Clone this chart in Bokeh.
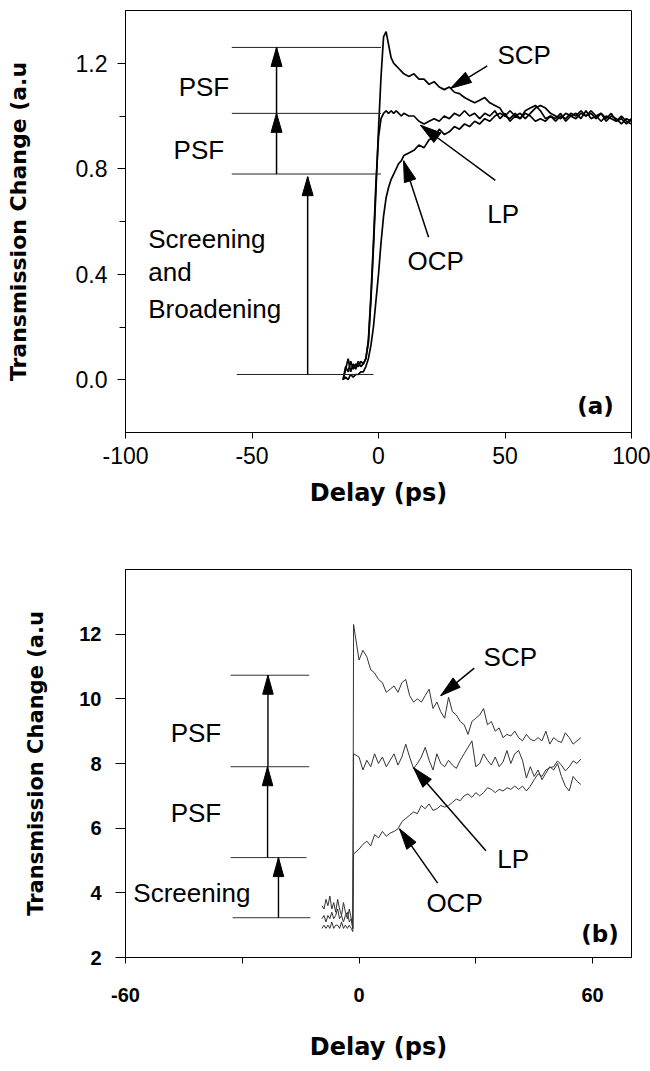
import math
from bokeh.plotting import figure
from bokeh.layouts import column
from bokeh.models import FixedTicker, Range1d, NumeralTickFormatter
from bokeh.embed import file_html
from bokeh.resources import INLINE
from bokeh.core.properties import value

# ---------------- panel (a) data ----------------
delay_a = [-14, -13, -12, -11, -10, -9, -8, -7, -6, -5, -4, -3, -2, -1, 0, 1, 2, 3, 4, 5,
           6, 7, 8, 9, 10, 12, 14, 16, 18, 20, 22, 24, 26, 28, 30, 32, 34, 36, 38, 40,
           42, 44, 46, 48, 50, 52, 54, 56, 58, 60, 62, 64, 66, 68, 70, 72, 74, 76, 78, 80,
           82, 84, 86, 88, 90, 92, 94, 96, 98, 100]
scp_a = [0.00, 0.04, 0.08, 0.03, 0.06, 0.04, 0.07, 0.05, 0.06, 0.08, 0.14, 0.30, 0.50, 0.72, 0.95, 1.15, 1.30, 1.32, 1.27, 1.22,
         1.20, 1.19, 1.18, 1.17, 1.16, 1.15, 1.16, 1.14, 1.14, 1.12, 1.13, 1.11, 1.10, 1.11, 1.09, 1.085, 1.07, 1.06, 1.05, 1.06,
         1.07, 1.05, 1.04, 1.03, 1.00, 0.99, 1.01, 0.99, 1.02, 1.03, 1.04, 1.02, 0.99, 1.00, 0.98, 1.00, 0.99, 1.01, 1.00, 1.02,
         1.00, 1.01, 0.99, 1.01, 0.98, 1.00, 0.99, 0.97, 0.99, 0.98]
lp_a = [0.00, 0.05, 0.03, 0.07, 0.04, 0.06, 0.05, 0.07, 0.06, 0.08, 0.15, 0.32, 0.52, 0.75, 0.92, 0.99, 1.01, 1.02, 1.01, 1.02,
        1.01, 1.02, 1.01, 1.00, 1.01, 1.00, 1.00, 0.98, 0.97, 0.98, 0.99, 0.98, 1.00, 0.99, 1.01, 1.00, 1.02, 1.00, 1.01, 0.99,
        1.01, 1.00, 1.02, 0.99, 1.01, 0.98, 1.00, 0.99, 1.01, 1.00, 0.98, 0.99, 0.98, 1.00, 0.99, 1.01, 0.98, 1.00, 1.01, 0.99,
        1.02, 0.99, 1.00, 0.98, 1.00, 0.99, 0.98, 0.99, 0.97, 0.99]
ocp_a = [0.00, 0.01, 0.00, 0.02, 0.01, 0.02, 0.02, 0.03, 0.03, 0.05, 0.08, 0.13, 0.20, 0.30, 0.40, 0.52, 0.62, 0.69, 0.73, 0.76,
         0.78, 0.80, 0.82, 0.83, 0.85, 0.86, 0.87, 0.89, 0.88, 0.91, 0.92, 0.95, 0.93, 0.94, 0.96, 0.95, 0.97, 0.96, 0.98, 0.97,
         0.99, 0.98, 1.00, 1.01, 1.00, 1.02, 1.00, 1.01, 0.99, 1.01, 1.03, 1.04, 1.03, 1.01, 1.00, 0.99, 1.01, 1.00, 0.99, 1.01,
         1.00, 1.02, 1.00, 1.01, 0.99, 1.01, 0.98, 1.00, 0.98, 0.97]

# panel (a) annotations
a_levels = [1.26, 1.01, 0.78, 0.02]
a_level_x0 = [-58, -58, -58, -56]
a_level_x1 = [1, 1, 1, -2]
a_arrow_x = [-40.3, -40.3, -28]
a_arrow_y0 = [0.78, 1.01, 0.02]
a_arrow_y1 = [1.01, 1.26, 0.77]
a_text = ["PSF", "PSF", "Screening", "and", "Broadening", "SCP", "LP", "OCP"]
a_text_x = [-79, -81, -91, -91, -91, 47, 43, 11.5]
a_text_y = [1.11, 0.87, 0.535, 0.41, 0.27, 1.23, 0.63, 0.45]
a_ptr_x0 = [43, 46.2, 19.8]
a_ptr_y0 = [1.19, 0.756, 0.54]
a_ptr_x1 = [28.5, 16.6, 9.9]
a_ptr_y1 = [1.105, 0.965, 0.83]

# ---------------- panel (b) data ----------------
delay_b = [-9.5, -9, -8.5, -8, -7.5, -7, -6.5, -6, -5.5, -5, -4.5, -4, -3.5, -3, -2.5, -2, -1.6, -1.4,
           0, 1, 2, 3, 4, 5, 6, 7, 8, 9, 10, 11, 12, 13, 14, 15, 16, 17, 18, 19,
           20, 21, 22, 23, 24, 25, 26, 27, 28, 29, 30, 31, 32, 33, 34, 35, 36, 37, 38, 39,
           40, 41, 42, 43, 44, 45, 46, 47, 48, 49, 50, 51, 52, 53, 54, 55, 56, 57]
scp_b = [3.6, 3.5, 3.8, 3.6, 3.9, 3.5, 3.7, 3.4, 3.8, 3.5, 3.3, 3.7, 3.4, 3.2, 3.5, 3.2, 2.9, 12.3,
         11.2, 11.5, 11.3, 10.9, 10.8, 10.6, 10.5, 10.2, 10.3, 10.4, 10.2, 10.5, 10.6, 10.1, 9.9, 10.0, 9.9, 10.1, 10.3, 9.7,
         9.9, 9.6, 9.4, 10.05, 9.6, 9.5, 9.3, 9.2, 8.9, 9.3, 9.4, 9.5, 9.7, 9.2, 9.3, 9.0, 9.1, 8.8, 8.9, 8.85,
         9.0, 8.8, 8.7, 8.9, 8.75, 8.7, 8.8, 8.7, 9.0, 8.6, 8.8, 8.7, 8.65, 8.95, 8.8, 8.6, 8.7, 8.8]
lp_b = [3.2, 3.3, 3.1, 3.3, 3.2, 3.4, 3.2, 3.3, 3.5, 3.2, 3.3, 3.1, 3.3, 3.4, 3.1, 3.2, 2.9, 8.3,
        8.2, 7.8, 8.1, 7.9, 8.3, 8.0, 8.2, 7.9, 8.1, 8.3, 7.95, 8.2, 8.6, 8.2, 7.85, 8.0, 8.2, 8.5, 8.1, 7.8,
        8.3, 8.0, 7.9, 8.1, 7.95, 7.85, 8.1, 8.3, 8.5, 8.7, 7.9, 8.0, 8.3, 8.1, 7.95, 8.2, 7.9, 8.05, 8.4, 8.0,
        8.3, 8.4, 8.1, 7.55, 7.9, 7.6, 7.8, 7.5, 7.7, 7.9, 7.8, 8.0, 7.6, 7.3, 7.15, 7.6, 7.45, 7.35]
ocp_b = [2.9, 3.0, 2.9, 3.0, 2.9, 3.1, 2.9, 3.0, 3.0, 2.9, 3.1, 2.9, 3.0, 2.9, 3.0, 2.9, 2.8, 5.2,
         5.35, 5.5, 5.6, 5.45, 5.8, 5.7, 5.9, 5.75, 5.85, 5.9, 5.98, 6.2, 6.3, 6.4, 6.5, 6.45, 6.7, 6.6, 6.75, 6.55,
         6.6, 6.7, 6.65, 6.7, 6.8, 6.9, 6.85, 7.0, 7.06, 6.95, 7.1, 7.0, 7.1, 7.25, 7.2, 7.1, 7.2, 7.15, 7.25, 7.2,
         7.3, 7.2, 7.3, 7.15, 7.3, 7.5, 7.68, 7.6, 7.8, 7.87, 7.9, 8.08, 7.95, 7.77, 7.9, 8.08, 8.0, 8.14]

# panel (b) annotations
b_levels = [10.73, 7.9, 5.09, 3.23]
b_level_x0 = [-33, -33, -33, -32.5]
b_level_x1 = [-12.8, -12.8, -13.5, -12.5]
b_arrow_x = [-23.5, -23.4, -20.7]
b_arrow_y0 = [5.09, 7.9, 3.23]
b_arrow_y1 = [7.9, 10.73, 5.09]
b_text = ["PSF", "PSF", "Screening", "SCP", "LP", "OCP"]
b_text_x = [-48.4, -48.4, -58, 32, 35.5, 17.3]
b_text_y = [8.94, 6.48, 4.0, 11.3, 5.05, 3.7]
b_ptr_x0 = [29.6, 32.6, 20.2]
b_ptr_y0 = [10.95, 5.3, 4.3]
b_ptr_x1 = [21, 14, 10.4]
b_ptr_y1 = [10.1, 7.87, 5.98]

W = 650
TEXT_FONT = value("Liberation Sans")


def heads(x0s, y0s, x1s, y1s, sx, sy, L=19, Wd=11):
    xs, ys = [], []
    for x0, y0, x1, y1 in zip(x0s, y0s, x1s, y1s):
        dx, dy = (x1 - x0) * sx, (y1 - y0) * sy
        n = math.hypot(dx, dy)
        ux, uy = dx / n, dy / n
        tx, ty = x1 * sx, y1 * sy
        bx, by = tx - ux * L, ty - uy * L
        px, py = -uy * Wd / 2, ux * Wd / 2
        xs.append([tx / sx, (bx + px) / sx, (bx - px) / sx])
        ys.append([ty / sy, (by + py) / sy, (by - py) / sy])
    return xs, ys


def style(p, tick_font_size, tick_bold, xlabel_size, ylabel_size):
    p.toolbar_location = None
    p.xgrid.grid_line_color = None
    p.ygrid.grid_line_color = None
    p.outline_line_color = "black"
    p.outline_line_width = 1
    p.background_fill_color = "white"
    p.border_fill_color = "white"
    for ax in (p.xaxis[0], p.yaxis[0]):
        ax.axis_line_color = "black"
        ax.major_tick_in = 0
        ax.minor_tick_in = 0
        ax.major_tick_line_color = "black"
        ax.minor_tick_line_color = "black"
        ax.major_label_text_font = "Liberation Sans"
        ax.major_label_text_font_size = tick_font_size
        ax.major_label_text_font_style = "bold" if tick_bold else "normal"
        ax.major_label_text_color = "black"
        ax.axis_label_text_font = "DejaVu Sans"
        ax.axis_label_text_font_style = "bold"
        ax.axis_label_text_color = "black"
    p.xaxis[0].axis_label_text_font_size = xlabel_size
    p.yaxis[0].axis_label_text_font_size = ylabel_size


# ---------------- figure (a) ----------------
H1 = 520
L1, R1, T1, B1 = 125, 19, 10, 88
xa0, xa1, ya0, ya1 = -100, 100, -0.2, 1.4
p1 = figure(width=W, height=H1, output_backend="svg", toolbar_location=None,
            x_range=Range1d(xa0, xa1), y_range=Range1d(ya0, ya1),
            min_border_left=L1, min_border_right=R1, min_border_top=T1, min_border_bottom=B1,
            x_axis_label="Delay (ps)", y_axis_label="Transmission Change (a.u")
style(p1, "23px", False, "24px", "22px")
p1.xaxis.ticker = FixedTicker(ticks=[-100, -50, 0, 50, 100])
p1.xaxis.formatter = NumeralTickFormatter(format="0")
p1.yaxis.ticker = FixedTicker(ticks=[0.0, 0.4, 0.8, 1.2], minor_ticks=[0.2, 0.6, 1.0])
p1.yaxis.formatter = NumeralTickFormatter(format="0.0")
p1.xaxis.major_tick_out = 6
p1.xaxis.major_label_standoff = 8
p1.xaxis.axis_label_standoff = 12
p1.yaxis.major_tick_out = 8
p1.yaxis.minor_tick_out = 6
p1.yaxis.major_label_standoff = 10
p1.yaxis.axis_label_standoff = 42

sxa = (W - L1 - R1) / (xa1 - xa0)
sya = (H1 - T1 - B1) / (ya1 - ya0)

for ys_ in (scp_a, lp_a, ocp_a):
    p1.line(delay_a, ys_, line_color="black", line_width=1.7)

p1.segment(x0=a_level_x0, y0=a_levels, x1=a_level_x1, y1=a_levels, line_color="#222222", line_width=1)
p1.segment(x0=a_arrow_x, y0=a_arrow_y0, x1=a_arrow_x, y1=a_arrow_y1, line_color="black", line_width=1.5)
hx, hy = heads(a_arrow_x, a_arrow_y0, a_arrow_x, a_arrow_y1, sxa, sya)
p1.patches(hx, hy, fill_color="black", line_color="black")
p1.segment(x0=a_ptr_x0, y0=a_ptr_y0, x1=a_ptr_x1, y1=a_ptr_y1, line_color="black", line_width=1.5)
hx, hy = heads(a_ptr_x0, a_ptr_y0, a_ptr_x1, a_ptr_y1, sxa, sya, L=21, Wd=12)
p1.patches(hx, hy, fill_color="black", line_color="black")
p1.text(x=a_text_x, y=a_text_y, text=a_text, text_font=TEXT_FONT, text_font_size="26px",
        text_baseline="middle", text_align="left", text_color="black")
p1.text(x=[93], y=[-0.10], text=["(a)"], text_font=value("DejaVu Sans"), text_font_style="bold",
        text_font_size="23px", text_baseline="middle", text_align="right", text_color="black")

# ---------------- figure (b) ----------------
H2 = 1071 - H1
L2, R2, T2, B2 = 115, 8, 49, 114
xb0, xb1, yb0, yb1 = -60, 70, 2, 14
p2 = figure(width=W, height=H2, output_backend="svg", toolbar_location=None,
            x_range=Range1d(xb0, xb1), y_range=Range1d(yb0, yb1),
            min_border_left=L2, min_border_right=R2, min_border_top=T2, min_border_bottom=B2,
            x_axis_label="Delay (ps)", y_axis_label="Transmission Change (a.u")
style(p2, "20px", True, "24px", "21px")
p2.xaxis.ticker = FixedTicker(ticks=[-60, 0, 60], minor_ticks=[-30, 30])
p2.xaxis.formatter = NumeralTickFormatter(format="0")
p2.yaxis.ticker = FixedTicker(ticks=[2, 4, 6, 8, 10, 12])
p2.xaxis.major_tick_out = 6
p2.xaxis.minor_tick_out = 6
p2.xaxis.major_label_standoff = 24
p2.xaxis.axis_label_standoff = 28
p2.yaxis.major_tick_out = 10
p2.yaxis.minor_tick_line_color = None
p2.yaxis.major_label_standoff = 14
p2.yaxis.axis_label_standoff = 28

sxb = (W - L2 - R2) / (xb1 - xb0)
syb = (H2 - T2 - B2) / (yb1 - yb0)

for ys_ in (scp_b, lp_b, ocp_b):
    p2.line(delay_b, ys_, line_color="#333333", line_width=1)

p2.segment(x0=b_level_x0, y0=b_levels, x1=b_level_x1, y1=b_levels, line_color="#333333", line_width=1)
p2.segment(x0=b_arrow_x, y0=b_arrow_y0, x1=b_arrow_x, y1=b_arrow_y1, line_color="black", line_width=1.4)
hx, hy = heads(b_arrow_x, b_arrow_y0, b_arrow_x, b_arrow_y1, sxb, syb, L=19, Wd=11)
p2.patches(hx, hy, fill_color="black", line_color="black")
p2.segment(x0=b_ptr_x0, y0=b_ptr_y0, x1=b_ptr_x1, y1=b_ptr_y1, line_color="black", line_width=1.5)
hx, hy = heads(b_ptr_x0, b_ptr_y0, b_ptr_x1, b_ptr_y1, sxb, syb, L=21, Wd=12)
p2.patches(hx, hy, fill_color="black", line_color="black")
p2.text(x=b_text_x, y=b_text_y, text=b_text, text_font=TEXT_FONT, text_font_size="26px",
        text_baseline="middle", text_align="left", text_color="black")
p2.text(x=[66.7], y=[2.74], text=["(b)"], text_font=value("DejaVu Sans"), text_font_style="bold",
        text_font_size="23px", text_baseline="middle", text_align="right", text_color="black")

layout = column(p1, p2, spacing=0)
open("out.html", "w").write(file_html(layout, INLINE))
